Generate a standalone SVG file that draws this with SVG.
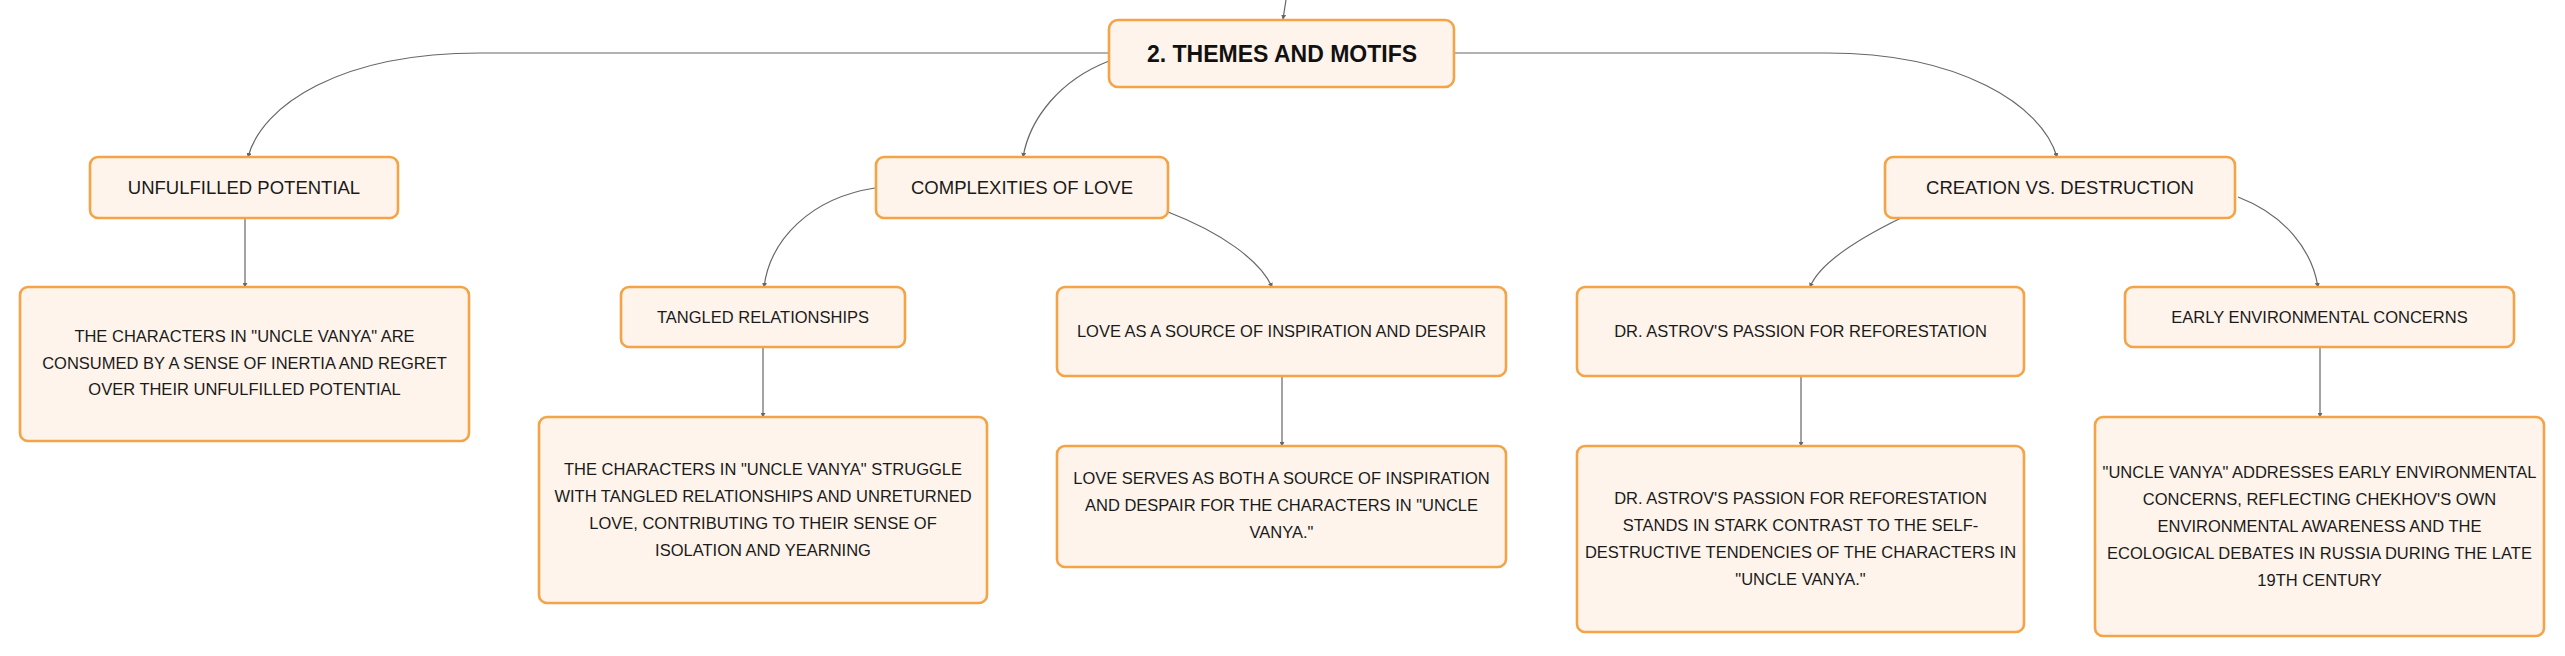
<svg xmlns="http://www.w3.org/2000/svg" width="2565" height="656" viewBox="0 0 2565 656">
<defs>
<style>
.box{fill:#FEF4EB;stroke:#F4A347;stroke-width:2.6}
.t{font-family:"Liberation Sans",Arial,sans-serif;font-size:16.5px;fill:#1a1a1a;text-anchor:middle}
.l2{font-size:18.5px}
.main{font-family:"Liberation Sans",Arial,sans-serif;font-size:23px;font-weight:bold;fill:#111;text-anchor:middle}
.c{fill:none;stroke:#666;stroke-width:1.2;marker-end:url(#ah)}
</style>
<marker id="ah" viewBox="0 0 6 6" refX="5" refY="3" markerWidth="5" markerHeight="5" orient="auto" markerUnits="userSpaceOnUse">
<path d="M0,0 L6,3 L0,6 z" fill="#666"/>
</marker>
</defs>
<rect width="2565" height="656" fill="#ffffff"/>
<g id="connectors">
<path class="c" d="M1286,0 L1283,19"/>
<path class="c" d="M1109,53 L480,53 C340,53 262,105 248,157"/>
<path class="c" d="M1454,53 L1827,53 C1960,53 2042,105 2057,157"/>
<path class="c" d="M1109,61 C1060,80 1030,118 1023,157"/>
<path class="c" d="M875,188 C810,198 770,240 764,287"/>
<path class="c" d="M1168,212 C1220,232 1260,260 1272,287"/>
<path class="c" d="M1901,218 C1860,238 1820,262 1810,287"/>
<path class="c" d="M2238,197 C2285,215 2312,250 2318,287"/>
<path class="c" d="M245,218 L245,287"/>
<path class="c" d="M763,347 L763,417"/>
<path class="c" d="M1282,376 L1282,446"/>
<path class="c" d="M1801,376 L1801,446"/>
<path class="c" d="M2320,347 L2320,417"/>
</g>
<g id="n-main">
<rect class="box" x="1109" y="20" width="345" height="67" rx="9"/>
<text class="main" x="1282" y="62">2. THEMES AND MOTIFS</text>
</g>
<g id="n-unfulfilled">
<rect class="box" x="90" y="157" width="308" height="61" rx="8"/>
<text class="t l2" x="244" y="194">UNFULFILLED POTENTIAL</text>
</g>
<g id="n-unfulfilled-desc">
<rect class="box" x="20" y="287" width="449" height="154" rx="8"/>
<text class="t" x="244.5" y="342">THE CHARACTERS IN "UNCLE VANYA" ARE</text>
<text class="t" x="244.5" y="368.5">CONSUMED BY A SENSE OF INERTIA AND REGRET</text>
<text class="t" x="244.5" y="395">OVER THEIR UNFULFILLED POTENTIAL</text>
</g>
<g id="n-complexities">
<rect class="box" x="876" y="157" width="292" height="61" rx="8"/>
<text class="t l2" x="1022" y="194">COMPLEXITIES OF LOVE</text>
</g>
<g id="n-tangled">
<rect class="box" x="621" y="287" width="284" height="60" rx="8"/>
<text class="t" x="763" y="322.5">TANGLED RELATIONSHIPS</text>
</g>
<g id="n-tangled-desc">
<rect class="box" x="539" y="417" width="448" height="186" rx="8"/>
<text class="t" x="763" y="474.5">THE CHARACTERS IN "UNCLE VANYA" STRUGGLE</text>
<text class="t" x="763" y="501.5">WITH TANGLED RELATIONSHIPS AND UNRETURNED</text>
<text class="t" x="763" y="528.5">LOVE, CONTRIBUTING TO THEIR SENSE OF</text>
<text class="t" x="763" y="555.5">ISOLATION AND YEARNING</text>
</g>
<g id="n-love">
<rect class="box" x="1057" y="287" width="449" height="89" rx="8"/>
<text class="t" x="1281.5" y="336.5">LOVE AS A SOURCE OF INSPIRATION AND DESPAIR</text>
</g>
<g id="n-love-desc">
<rect class="box" x="1057" y="446" width="449" height="121" rx="8"/>
<text class="t" x="1281.5" y="484">LOVE SERVES AS BOTH A SOURCE OF INSPIRATION</text>
<text class="t" x="1281.5" y="511">AND DESPAIR FOR THE CHARACTERS IN "UNCLE</text>
<text class="t" x="1281.5" y="538">VANYA."</text>
</g>
<g id="n-creation">
<rect class="box" x="1885" y="157" width="350" height="61" rx="8"/>
<text class="t l2" x="2060" y="194">CREATION VS. DESTRUCTION</text>
</g>
<g id="n-astrov">
<rect class="box" x="1577" y="287" width="447" height="89" rx="8"/>
<text class="t" x="1800.5" y="336.5">DR. ASTROV'S PASSION FOR REFORESTATION</text>
</g>
<g id="n-astrov-desc">
<rect class="box" x="1577" y="446" width="447" height="186" rx="8"/>
<text class="t" x="1800.5" y="504">DR. ASTROV'S PASSION FOR REFORESTATION</text>
<text class="t" x="1800.5" y="530.5">STANDS IN STARK CONTRAST TO THE SELF-</text>
<text class="t" x="1800.5" y="557.5">DESTRUCTIVE TENDENCIES OF THE CHARACTERS IN</text>
<text class="t" x="1800.5" y="584.5">"UNCLE VANYA."</text>
</g>
<g id="n-early">
<rect class="box" x="2125" y="287" width="389" height="60" rx="8"/>
<text class="t" x="2319.5" y="322.5">EARLY ENVIRONMENTAL CONCERNS</text>
</g>
<g id="n-early-desc">
<rect class="box" x="2095" y="417" width="449" height="219" rx="8"/>
<text class="t" x="2319.5" y="477.5">"UNCLE VANYA" ADDRESSES EARLY ENVIRONMENTAL</text>
<text class="t" x="2319.5" y="504.5">CONCERNS, REFLECTING CHEKHOV'S OWN</text>
<text class="t" x="2319.5" y="531.5">ENVIRONMENTAL AWARENESS AND THE</text>
<text class="t" x="2319.5" y="558.5">ECOLOGICAL DEBATES IN RUSSIA DURING THE LATE</text>
<text class="t" x="2319.5" y="585.5">19TH CENTURY</text>
</g>
</svg>
